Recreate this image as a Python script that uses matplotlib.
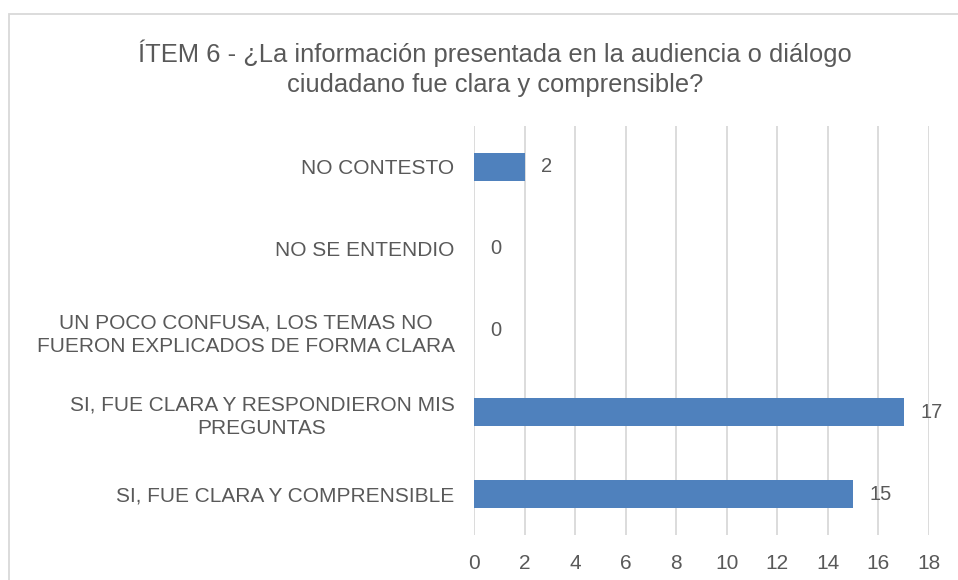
import matplotlib.pyplot as plt
from matplotlib.patches import Rectangle

# survey answers, listed bottom to top
categories = [
    'SI, FUE CLARA Y COMPRENSIBLE',
    'SI, FUE CLARA Y RESPONDIERON MIS\nPREGUNTAS',
    'UN POCO CONFUSA, LOS TEMAS NO\nFUERON EXPLICADOS DE FORMA CLARA',
    'NO SE ENTENDIO',
    'NO CONTESTO',
]
counts = [15, 17, 0, 0, 2]
xticks = list(range(0, 19, 2))

title = ('ÍTEM 6 - ¿La información presentada en la audiencia o diálogo\n'
         'ciudadano fue clara y comprensible?')

text_color = '#595959'
grid_color = '#D9D9D9'
bar_color = '#4F81BD'

plt.rcParams['font.family'] = ['Liberation Sans', 'DejaVu Sans']

fig = plt.figure(figsize=(9.58, 5.8), dpi=100)

# light frame around the chart area
fig.patches.append(Rectangle((9 / 958, -0.1), 1.2, 1 - 14 / 580 + 0.1,
                             transform=fig.transFigure, fill=False,
                             edgecolor=grid_color, linewidth=1.3))

ax = fig.add_axes([474 / 958, 45 / 580, 455 / 958, 409 / 580])

y = range(len(categories))
ax.barh(y, counts, height=0.34, color=bar_color, zorder=3)

for yi, v in zip(y, counts):
    ax.annotate(str(v), (v, yi), xytext=(12, 0), textcoords='offset points',
                va='center', ha='left', fontsize=14.5, color=text_color)

ax.set_xlim(0, 18)
ax.set_ylim(-0.5, len(categories) - 0.5)
ax.set_xticks(xticks)
ax.set_yticks(list(y))
ax.set_yticklabels(categories, multialignment='center', linespacing=1.3)
ax.tick_params(axis='both', length=0, labelsize=15, labelcolor=text_color)
ax.tick_params(axis='y', pad=14)
ax.tick_params(axis='x', pad=14)
ax.grid(axis='x', color=grid_color, linewidth=1.3, zorder=0)
for s in ax.spines.values():
    s.set_visible(False)

fig.text(495 / 958, 1 - 68.5 / 580, title, ha='center', va='center',
         multialignment='center', fontsize=18.4, color=text_color,
         linespacing=1.3)

fig.savefig('out.png', dpi=100, facecolor='white')
